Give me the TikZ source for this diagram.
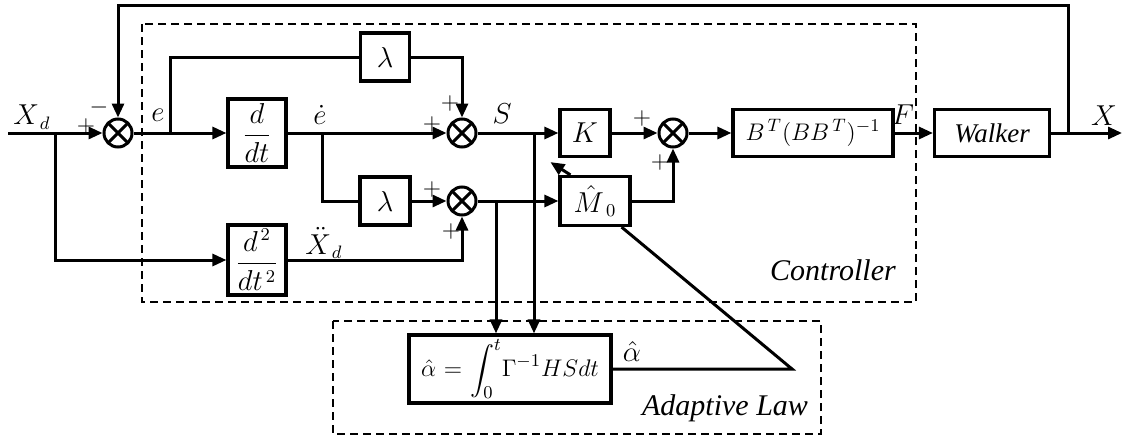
\documentclass[tikz,border=0pt]{standalone}
\usepackage{amsmath}
\usepackage{fontspec}
\setmainfont{Liberation Serif}
\usepackage{tikz}
\usetikzlibrary{positioning, arrows.meta, calc}

\begin{document}
\begin{tikzpicture}[
    x=0.5pt, y=-0.5pt,
    font=\fontsize{13.5}{16}\selectfont,
    block/.style={draw, rectangle, line width=1.6pt, inner sep=1pt, align=center},
    sumjunction/.style={draw, circle, line width=1.5pt, minimum size=14pt, inner sep=0pt,
        path picture={\draw[line width=1.5pt] (path picture bounding box.north west) -- (path picture bounding box.south east)
            (path picture bounding box.north east) -- (path picture bounding box.south west);}},
    arrow/.style={line width=1.5pt, -{Triangle[length=7pt, width=6pt]}},
    line/.style={line width=1.5pt},
    region/.style={draw, line width=1.4pt, dash pattern=on 4pt off 2.5pt},
    sign/.style={font=\fontsize{13}{15}\selectfont, inner sep=0pt},
    tag/.style={font=\fontsize{15}{17}\selectfont\itshape}
]
\useasboundingbox (0,0) rectangle (1127,439);

% controller and adaptive law regions
\draw[region] (142,24) rectangle (916,302);
\draw[region] (333,321) rectangle (821,434);

% summing junctions
\node[sumjunction] (sum1) at (118,133) {};
\node[sumjunction] (sum2) at (462,133) {};
\node[sumjunction] (sum3) at (462,201) {};
\node[sumjunction] (sum4) at (673,133) {};

% blocks
\node[block, minimum width=29pt, minimum height=34pt] (ddt) at (257,133) {$\dfrac{d}{dt}$};
\node[block, minimum width=29pt, minimum height=35pt] (dd2) at (257,260) {$\dfrac{d^{\,2}}{dt^{\,2}}$};
\node[block, minimum width=24.5pt, minimum height=24pt] (lamA) at (385,57) {$\lambda$};
\node[block, minimum width=25pt, minimum height=24pt] (lamB) at (385,201) {$\lambda$};
\node[block, minimum width=25pt, minimum height=23.5pt] (gainK) at (585,133) {$K$};
\node[block, minimum width=35pt, minimum height=24.5pt] (massM) at (595,201) {$\hat{M}_{\;0}$};
\node[block, minimum width=80pt, minimum height=23.5pt, font=\fontsize{12.5}{15}\selectfont] (invB) at (813,133) {$B^{\,T}(BB^{\,T})^{-1}$};
\node[block, minimum width=57.5pt, minimum height=23.5pt] (walker) at (992,133) {\itshape Walker};
\node[block, text width=98pt, minimum height=34pt, inner sep=1.5pt, font=\fontsize{12.5}{15}\selectfont] (adapt) at (510,369) {$\hat{\alpha}=\displaystyle\int_0^t\!\Gamma^{-1}HSdt$};

% branch points
\coordinate (xin) at (8,133);
\coordinate (tapXd) at (55,133);
\coordinate (tapE) at (170,133);
\coordinate (tapEd) at (322,133);
\coordinate (tapS) at (534,133);
\coordinate (tapV) at (496,201);
\coordinate (tapX) at (1068,133);
\coordinate (xout) at (1122,133);
\coordinate (fbtop) at (118,5);
\coordinate (apex) at (792,369);

% connections
\draw[arrow] (xin) -- (sum1.west);
\draw[arrow] (tapXd) |- (dd2.west);
\draw[arrow] (sum1.east) -- (ddt.west);
\draw[line] (tapE) |- (lamA.west);
\draw[arrow] (lamA.east) -| (sum2.north);
\draw[arrow] (ddt.east) -- (sum2.west);
\draw[line] (tapEd) |- (lamB.west);
\draw[arrow] (lamB.east) -- (sum3.west);
\draw[arrow] (dd2.east) -| (sum3.south);
\draw[arrow] (sum2.east) -- (gainK.west);
\draw[arrow] (sum3.east) -- (massM.west);
\draw[arrow] (tapS) -- (tapS |- adapt.north);
\draw[arrow] (tapV) -- (tapV |- adapt.north);
\draw[arrow] (gainK.east) -- (sum4.west);
\draw[arrow] (massM.east) -| (sum4.south);
\draw[arrow] ($(massM.north west)+(12,0)$) -- ($(gainK.south west)+(-8,4)$);
\draw[arrow] (sum4.east) -- (invB.west);
\draw[arrow] (invB.east) -- (walker.west);
\draw[arrow] (walker.east) -- (xout);
\draw[arrow] (tapX) |- (fbtop) -- (sum1.north);
\draw[line] (adapt.east) -- (apex) -- ($(massM.south east)+(-10,0)$);

% signal names and signs
\node (lblXd) at (32,117) {$X_{\,d}$};
\node[sign] (p1) at (86,126) {$+$};
\node[sign] (m1) at (99,107) {$-$};
\node (lblE) at (158,115) {$e$};
\node (lblEd) at (320,115) {$\dot{e}$};
\node[sign] (p2a) at (432,124) {$+$};
\node[sign] (p2b) at (450,103) {$+$};
\node (lblS) at (502,114) {$S$};
\node[sign] (p3a) at (432,189) {$+$};
\node[sign] (p3b) at (451,231) {$+$};
\node (lblXdd) at (324,243) {$\ddot{X}_{\,d}$};
\node[sign] (p4a) at (642,118) {$+$};
\node[sign] (p4b) at (660,162) {$+$};
\node (lblF) at (903,115) {$F$};
\node (lblX) at (1104,116) {$X$};
\node (lblAlpha) at (632,351) {$\hat{\alpha}$};
\node[tag] (ctrlTag) at (833,270) {Controller};
\node[tag] (lawTag) at (725,408) {Adaptive Law};
\end{tikzpicture}
\end{document}
